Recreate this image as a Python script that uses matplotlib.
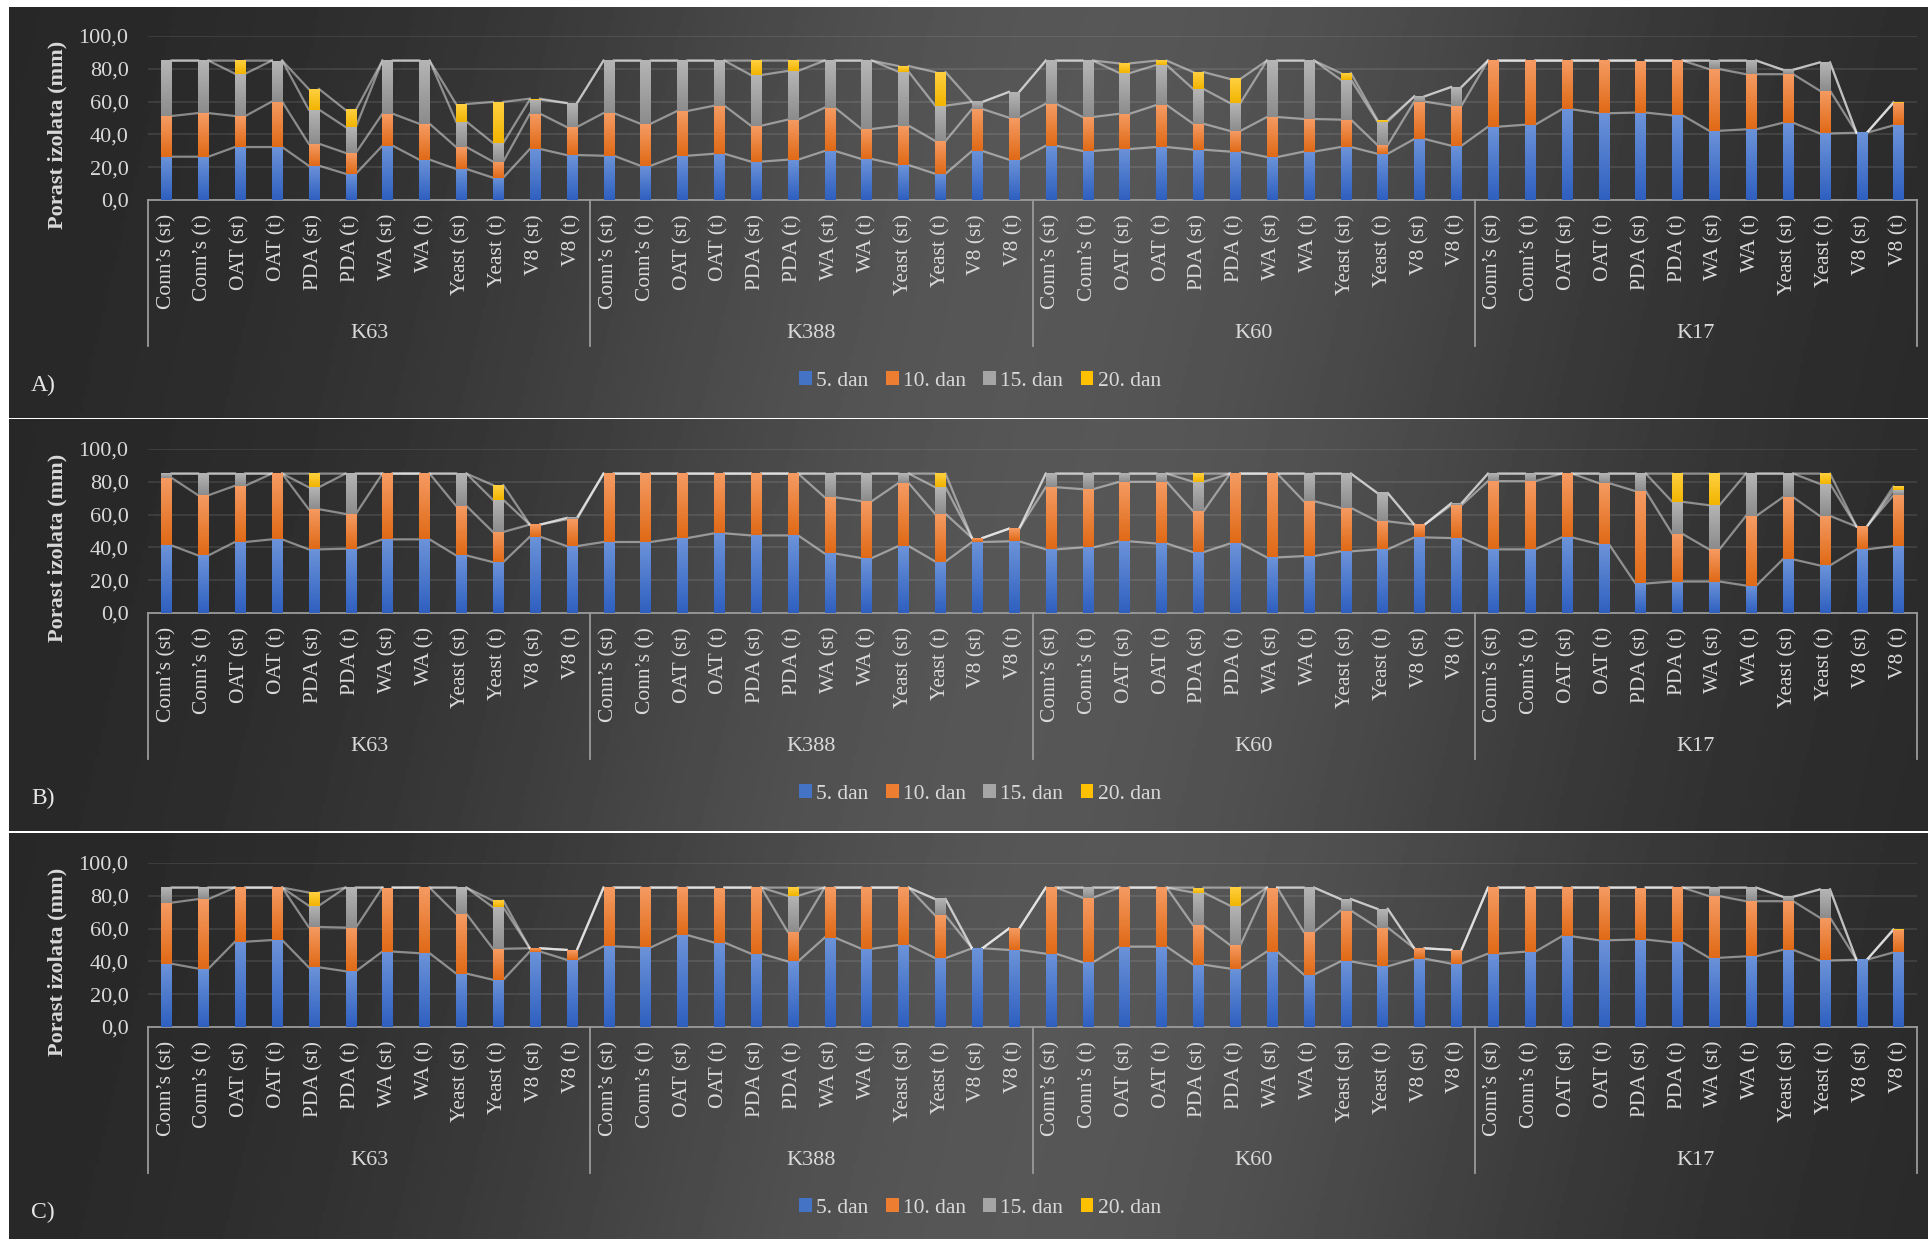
import numpy as np
import matplotlib.pyplot as plt
from matplotlib.colors import LinearSegmentedColormap
from matplotlib.patches import Patch
from matplotlib.transforms import blended_transform_factory

plt.rcParams['font.family'] = ['Liberation Serif', 'DejaVu Serif']

W, H = 1928, 1239

media = ["Conn’s (st)", "Conn’s (t)", "OAT (st)", "OAT (t)", "PDA (st)", "PDA (t)",
         "WA (st)", "WA (t)", "Yeast (st)", "Yeast (t)", "V8 (st)", "V8 (t)"]
isolates = ["K63", "K388", "K60", "K17"]
days = ["5. dan", "10. dan", "15. dan", "20. dan"]

# panel A (growth increments, mm)
a_day5 = [26.4, 26.4, 32.3, 32.3, 20.9, 16.0, 33.1, 24.6, 18.9, 13.6, 31.1, 27.4,
          27.0, 20.9, 27.0, 28.2, 23.4, 24.6, 29.9, 25.0, 21.3, 16.0, 29.9, 24.6,
          33.1, 29.9, 31.1, 32.3, 30.7, 29.5, 26.2, 29.5, 32.3, 28.2, 37.2, 33.1,
          44.7, 45.9, 55.3, 52.9, 53.3, 51.6, 42.2, 43.1, 47.1, 40.6, 41.0, 45.5]
a_day10 = [24.8, 26.6, 18.9, 27.7, 13.4, 12.7, 19.5, 21.9, 13.4, 9.8, 21.5, 17.1,
           26.0, 25.6, 27.3, 29.3, 21.9, 24.4, 26.4, 18.3, 24.0, 20.0, 25.6, 25.6,
           25.6, 20.7, 21.5, 25.6, 15.8, 12.6, 24.4, 19.9, 16.7, 5.3, 22.8, 24.4,
           40.3, 39.1, 29.7, 32.1, 31.7, 33.4, 37.6, 33.6, 29.6, 26.1, 0.0, 13.7]
a_day15 = [33.8, 32.0, 25.8, 25.0, 20.8, 15.8, 32.4, 38.5, 15.5, 11.4, 8.6, 14.6,
           32.0, 38.5, 30.7, 27.5, 30.9, 29.7, 28.7, 41.7, 32.9, 21.5, 4.3, 15.7,
           26.3, 34.4, 24.8, 24.4, 21.2, 17.0, 34.4, 35.6, 24.4, 14.3, 3.2, 11.4,
           0.0, 0.0, 0.0, 0.0, 0.0, 0.0, 5.2, 8.3, 2.7, 17.2, 0.0, 0.0]
a_day20 = [0.0, 0.0, 8.0, 0.0, 12.6, 10.4, 0.0, 0.0, 10.7, 25.0, 0.6, 0.0,
           0.0, 0.0, 0.0, 0.0, 8.8, 6.3, 0.0, 0.0, 3.5, 20.5, 0.0, 0.0,
           0.0, 0.0, 5.9, 2.7, 10.3, 14.7, 0.0, 0.0, 4.0, 1.0, 0.0, 0.0,
           0.0, 0.0, 0.0, 0.0, 0.0, 0.0, 0.0, 0.0, 0.0, 0.0, 0.0, 0.4]

# panel B
b_day5 = [41.2, 35.1, 43.3, 44.9, 38.8, 39.2, 44.9, 44.9, 35.1, 31.0, 46.5, 40.8,
          43.3, 43.3, 45.7, 48.6, 47.3, 47.3, 36.3, 33.5, 40.8, 31.4, 43.3, 43.7,
          38.8, 40.0, 43.7, 42.4, 37.1, 42.4, 33.9, 34.7, 37.6, 38.8, 46.1, 45.7,
          38.8, 38.8, 46.1, 42.0, 18.0, 19.2, 19.2, 16.7, 32.7, 29.0, 38.8, 40.8]
b_day10 = [41.2, 36.7, 34.3, 40.1, 24.5, 21.2, 40.1, 40.1, 30.2, 18.4, 7.4, 16.3,
           41.7, 41.7, 39.3, 36.4, 37.7, 37.7, 34.3, 34.7, 38.4, 29.0, 2.4, 7.7,
           37.9, 35.5, 36.3, 37.6, 24.9, 42.6, 51.1, 33.5, 26.5, 17.1, 7.8, 20.0,
           41.6, 41.6, 38.9, 37.2, 56.3, 29.0, 19.6, 42.5, 37.9, 30.2, 13.9, 31.0]
b_day15 = [2.6, 13.2, 7.4, 0.0, 13.4, 24.6, 0.0, 0.0, 19.7, 19.6, 0.0, 0.9,
           0.0, 0.0, 0.0, 0.0, 0.0, 0.0, 14.4, 16.8, 5.8, 16.3, 0.0, 0.0,
           8.3, 9.5, 5.0, 5.0, 18.0, 0.0, 0.0, 16.8, 20.9, 17.2, 0.0, 1.2,
           4.6, 4.6, 0.0, 5.8, 10.7, 19.6, 26.9, 25.8, 14.4, 19.6, 0.0, 2.9]
b_day20 = [0.0, 0.0, 0.0, 0.0, 8.3, 0.0, 0.0, 0.0, 0.0, 9.0, 0.0, 0.0,
           0.0, 0.0, 0.0, 0.0, 0.0, 0.0, 0.0, 0.0, 0.0, 8.3, 0.0, 0.0,
           0.0, 0.0, 0.0, 0.0, 5.0, 0.0, 0.0, 0.0, 0.0, 0.0, 0.0, 0.0,
           0.0, 0.0, 0.0, 0.0, 0.0, 17.2, 19.3, 0.0, 0.0, 6.2, 0.0, 2.4]

# panel C
c_day5 = [38.6, 35.6, 52.0, 53.0, 36.4, 34.0, 46.0, 45.0, 32.6, 28.8, 46.0, 41.0,
          49.2, 48.5, 56.0, 51.5, 44.7, 40.0, 54.5, 47.7, 50.0, 42.0, 48.0, 47.0,
          44.7, 39.4, 49.0, 49.0, 38.0, 35.6, 46.0, 32.0, 40.0, 37.0, 41.7, 38.6,
          44.7, 45.9, 55.3, 52.9, 53.3, 51.6, 42.2, 43.1, 47.1, 40.6, 41.0, 45.5]
c_day10 = [37.2, 42.4, 33.0, 32.0, 24.6, 26.6, 39.0, 40.0, 36.4, 18.9, 2.0, 6.0,
           35.8, 36.5, 29.0, 33.5, 40.3, 18.0, 30.5, 37.3, 35.0, 26.0, 0.0, 13.0,
           40.3, 39.4, 36.0, 36.0, 24.0, 14.4, 39.0, 26.0, 31.0, 23.6, 6.3, 8.4,
           40.3, 39.1, 29.7, 32.1, 31.7, 33.4, 37.6, 33.6, 29.6, 26.1, 0.0, 13.7]
c_day15 = [9.2, 7.0, 0.0, 0.0, 13.0, 24.4, 0.0, 0.0, 16.0, 25.3, 0.0, 0.0,
           0.0, 0.0, 0.0, 0.0, 0.0, 22.0, 0.0, 0.0, 0.0, 10.0, 0.0, 0.0,
           0.0, 6.2, 0.0, 0.0, 20.0, 24.0, 0.0, 27.0, 7.0, 11.4, 0.0, 0.0,
           0.0, 0.0, 0.0, 0.0, 0.0, 0.0, 5.2, 8.3, 2.7, 17.2, 0.0, 0.0]
c_day20 = [0.0, 0.0, 0.0, 0.0, 8.0, 0.0, 0.0, 0.0, 0.0, 4.0, 0.0, 0.0,
           0.0, 0.0, 0.0, 0.0, 0.0, 5.0, 0.0, 0.0, 0.0, 0.0, 0.0, 0.0,
           0.0, 0.0, 0.0, 0.0, 3.0, 11.0, 0.0, 0.0, 0.0, 0.0, 0.0, 0.0,
           0.0, 0.0, 0.0, 0.0, 0.0, 0.0, 0.0, 0.0, 0.0, 0.0, 0.0, 0.4]

panels = [("A)", [a_day5, a_day10, a_day15, a_day20]),
          ("B)", [b_day5, b_day10, b_day15, b_day20]),
          ("C)", [c_day5, c_day10, c_day15, c_day20])]

base_cols = ['#4472c4', '#ed7d31', '#a5a5a5', '#ffc000']
top_cols = ['#6c93d9', '#f59b63', '#b5b5b5', '#ffd040']
bot_cols = ['#2f60c0', '#e06a16', '#8c8c8c', '#f2b400']
txt = '#d9d9d9'
axis_col = '#9a9a9a'

fig = plt.figure(figsize=(W / 100, H / 100), dpi=100, facecolor='white')

# background gradient
gx = np.linspace(0, 1, 600)
gy = np.linspace(0, 1, 60)
GX, GY = np.meshgrid(gx, gy)
bg = 0.15 + 0.19 * np.exp(-((GX - 0.57 + 0.05 * GY) / 0.3) ** 2)

panel_top = [7, 419, 833]
panel_h = [411, 412, 406]
zero_y = [200, 613, 1027]
plot_h = 164
x0, x1 = 148, 1917
bw = 0.28
x = np.arange(48)

for p, (label, series) in enumerate(panels):
    bgax = fig.add_axes([9 / W, 1 - (panel_top[p] + panel_h[p]) / H, 1 - 9 / W, panel_h[p] / H])
    bgax.imshow(bg, cmap='gray', vmin=0, vmax=1, aspect='auto', extent=(0, 1, 0, 1))
    bgax.axis('off')

    ax = fig.add_axes([x0 / W, 1 - zero_y[p] / H, (x1 - x0) / W, plot_h / H])
    ax.set_facecolor('none')

    bottom = np.zeros(48)
    for k, vals in enumerate(series):
        vals = np.array(vals)
        bars = ax.bar(x, vals, bw, bottom=bottom, color=base_cols[k], zorder=3)
        cm = LinearSegmentedColormap.from_list('g%d' % k, [bot_cols[k], top_cols[k]])
        grad = np.linspace(0, 1, 64).reshape(-1, 1)
        for b in bars:
            if b.get_height() <= 0:
                continue
            ax.imshow(grad, cmap=cm, aspect='auto', origin='lower', zorder=4,
                      extent=(b.get_x(), b.get_x() + b.get_width(),
                              b.get_y(), b.get_y() + b.get_height()))
        bottom = bottom + vals
        # series lines
        lx, ly = [], []
        for i in range(47):
            lx += [i + bw / 2, i + 1 - bw / 2, np.nan]
            ly += [bottom[i], bottom[i + 1], np.nan]
        ax.plot(lx, ly, color='white', alpha=0.45, lw=1.6, zorder=2)

    ax.set_xlim(-0.5, 47.5)
    ax.set_ylim(0, 100)
    ax.set_yticks(range(0, 101, 20))
    ax.set_yticklabels([f"{v:.1f}".replace('.', ',') for v in range(0, 101, 20)])
    ax.yaxis.grid(True, color='white', alpha=0.1, lw=1.3)
    ax.set_axisbelow(True)
    for s in ['top', 'right', 'left']:
        ax.spines[s].set_visible(False)
    ax.spines['bottom'].set_color(axis_col)
    ax.spines['bottom'].set_linewidth(1.3)
    ax.set_xticks(x)
    ax.set_xticklabels(media * 4, rotation=90)
    ax.tick_params(axis='x', length=0, pad=10, labelsize=15.5, labelcolor=txt)
    ax.tick_params(axis='y', length=0, pad=14, labelsize=16, labelcolor=txt)

    tr = blended_transform_factory(ax.transData, ax.transAxes)
    for g in range(5):
        ax.plot([g * 12 - 0.5] * 2, [0, -0.89], transform=tr, clip_on=False,
                color=axis_col, lw=1.3)
    for g, name in enumerate(isolates):
        ax.text(g * 12 + 5.5, -0.817, name, transform=tr, ha='center', va='center',
                fontsize=16, color=txt)

    off = zero_y[p] - 200
    handles = [Patch(facecolor=c, edgecolor='none') for c in base_cols]
    fig.legend(handles, days, loc='center', bbox_to_anchor=(980 / W, 1 - (381 + off) / H),
               ncol=4, frameon=False, fontsize=15.5, labelcolor=txt, handlelength=0.6,
               handleheight=0.6, handletextpad=0.2, columnspacing=0.8)
    fig.text(31 / W, 1 - (385 + off) / H, label, fontsize=17, color='#e6e6e6', va='center')
    fig.text(57 / W, 1 - (135 + off) / H, "Porast izolata (mm)", rotation=90, fontsize=16,
             fontweight='bold', ha='center', va='center', color=txt)

fig.savefig('out.png', dpi=100, facecolor='white')
